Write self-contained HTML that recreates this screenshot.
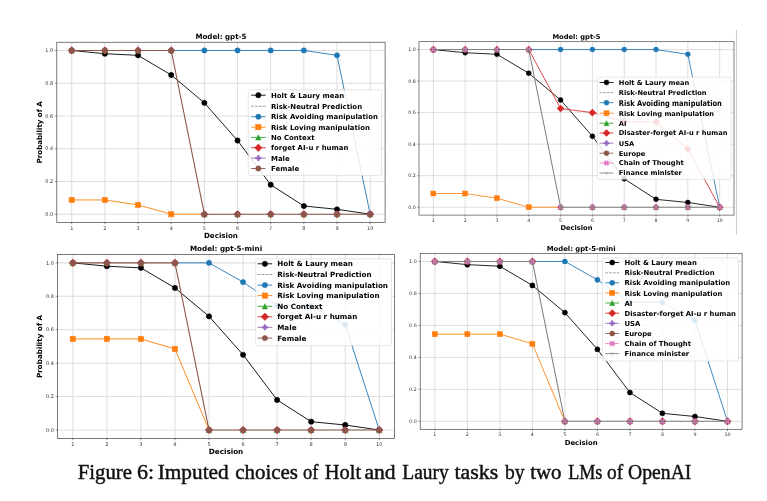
<!DOCTYPE html>
<html lang="en"><head><meta charset="utf-8"><title>Figure 6</title>
<style>html,body{margin:0;padding:0;background:#fff;}body{width:767px;height:501px;overflow:hidden;}</style>
</head><body>
<svg width="767" height="501" viewBox="0 0 767 501" style="display:block;filter:blur(0.35px)">
<rect width="767" height="501" fill="#ffffff"/>
<line x1="736.45" y1="30" x2="736.45" y2="234.5" stroke="#c9c9c9" stroke-width="1"/>
<g id="chart0">
<path d="M71.72 42.25V222.40M104.88 42.25V222.40M138.05 42.25V222.40M171.21 42.25V222.40M204.37 42.25V222.40M237.53 42.25V222.40M270.69 42.25V222.40M303.85 42.25V222.40M337.02 42.25V222.40M370.18 42.25V222.40M56.80 214.21H385.10M56.80 181.46H385.10M56.80 148.70H385.10M56.80 115.95H385.10M56.80 83.19H385.10M56.80 50.44H385.10" stroke="#b0b0b0" stroke-width="1.01" opacity="0.42" fill="none"/>
<path d="M71.72 222.40v1.83M104.88 222.40v1.83M138.05 222.40v1.83M171.21 222.40v1.83M204.37 222.40v1.83M237.53 222.40v1.83M270.69 222.40v1.83M303.85 222.40v1.83M337.02 222.40v1.83M370.18 222.40v1.83M56.80 214.21h-1.83M56.80 181.46h-1.83M56.80 148.70h-1.83M56.80 115.95h-1.83M56.80 83.19h-1.83M56.80 50.44h-1.83" stroke="#333" stroke-width="0.51" fill="none"/>
<g font-family="DejaVu Sans, Liberation Sans, sans-serif" font-size="4.97" fill="#333">
<text x="71.72" y="229.73" text-anchor="middle">1</text>
<text x="104.88" y="229.73" text-anchor="middle">2</text>
<text x="138.05" y="229.73" text-anchor="middle">3</text>
<text x="171.21" y="229.73" text-anchor="middle">4</text>
<text x="204.37" y="229.73" text-anchor="middle">5</text>
<text x="237.53" y="229.73" text-anchor="middle">6</text>
<text x="270.69" y="229.73" text-anchor="middle">7</text>
<text x="303.85" y="229.73" text-anchor="middle">8</text>
<text x="337.02" y="229.73" text-anchor="middle">9</text>
<text x="370.18" y="229.73" text-anchor="middle">10</text>
<text x="53.25" y="215.83" text-anchor="end">0.0</text>
<text x="53.25" y="183.07" text-anchor="end">0.2</text>
<text x="53.25" y="150.32" text-anchor="end">0.4</text>
<text x="53.25" y="117.56" text-anchor="end">0.6</text>
<text x="53.25" y="84.81" text-anchor="end">0.8</text>
<text x="53.25" y="52.05" text-anchor="end">1.0</text>
</g>
<polyline points="71.72,50.44 104.88,53.71 138.05,55.35 171.21,75.00 204.37,102.85 237.53,140.51 270.69,184.73 303.85,206.02 337.02,209.30 370.18,214.21" fill="none" stroke="#000000" stroke-width="0.89" stroke-linejoin="round"/>
<circle cx="71.72" cy="50.44" r="2.64" fill="#000000" stroke="#000000" stroke-width="0.51" stroke-linejoin="miter"/>
<circle cx="104.88" cy="53.71" r="2.64" fill="#000000" stroke="#000000" stroke-width="0.51" stroke-linejoin="miter"/>
<circle cx="138.05" cy="55.35" r="2.64" fill="#000000" stroke="#000000" stroke-width="0.51" stroke-linejoin="miter"/>
<circle cx="171.21" cy="75.00" r="2.64" fill="#000000" stroke="#000000" stroke-width="0.51" stroke-linejoin="miter"/>
<circle cx="204.37" cy="102.85" r="2.64" fill="#000000" stroke="#000000" stroke-width="0.51" stroke-linejoin="miter"/>
<circle cx="237.53" cy="140.51" r="2.64" fill="#000000" stroke="#000000" stroke-width="0.51" stroke-linejoin="miter"/>
<circle cx="270.69" cy="184.73" r="2.64" fill="#000000" stroke="#000000" stroke-width="0.51" stroke-linejoin="miter"/>
<circle cx="303.85" cy="206.02" r="2.64" fill="#000000" stroke="#000000" stroke-width="0.51" stroke-linejoin="miter"/>
<circle cx="337.02" cy="209.30" r="2.64" fill="#000000" stroke="#000000" stroke-width="0.51" stroke-linejoin="miter"/>
<circle cx="370.18" cy="214.21" r="2.64" fill="#000000" stroke="#000000" stroke-width="0.51" stroke-linejoin="miter"/>
<polyline points="171.21,50.44 204.37,50.44 237.53,50.44 270.69,50.44 303.85,50.44 337.02,55.35 370.18,214.21" fill="none" stroke="#1f77b4" stroke-width="0.89" stroke-linejoin="round"/>
<circle cx="204.37" cy="50.44" r="2.64" fill="#1f77b4" stroke="#1f77b4" stroke-width="0.51" stroke-linejoin="miter"/>
<circle cx="237.53" cy="50.44" r="2.64" fill="#1f77b4" stroke="#1f77b4" stroke-width="0.51" stroke-linejoin="miter"/>
<circle cx="270.69" cy="50.44" r="2.64" fill="#1f77b4" stroke="#1f77b4" stroke-width="0.51" stroke-linejoin="miter"/>
<circle cx="303.85" cy="50.44" r="2.64" fill="#1f77b4" stroke="#1f77b4" stroke-width="0.51" stroke-linejoin="miter"/>
<circle cx="337.02" cy="55.35" r="2.64" fill="#1f77b4" stroke="#1f77b4" stroke-width="0.51" stroke-linejoin="miter"/>
<circle cx="370.18" cy="214.21" r="2.64" fill="#1f77b4" stroke="#1f77b4" stroke-width="0.51" stroke-linejoin="miter"/>
<polyline points="71.72,199.96 104.88,199.96 138.05,204.88 171.21,214.21 204.37,214.21" fill="none" stroke="#ff7f0e" stroke-width="0.89" stroke-linejoin="round"/>
<rect x="69.09" y="197.33" width="5.27" height="5.27" fill="#ff7f0e" stroke="#ff7f0e" stroke-width="0.51" stroke-linejoin="miter"/>
<rect x="102.25" y="197.33" width="5.27" height="5.27" fill="#ff7f0e" stroke="#ff7f0e" stroke-width="0.51" stroke-linejoin="miter"/>
<rect x="135.41" y="202.24" width="5.27" height="5.27" fill="#ff7f0e" stroke="#ff7f0e" stroke-width="0.51" stroke-linejoin="miter"/>
<rect x="168.57" y="211.57" width="5.27" height="5.27" fill="#ff7f0e" stroke="#ff7f0e" stroke-width="0.51" stroke-linejoin="miter"/>
<path d="M71.72 47.80L69.09 53.08L74.36 53.08Z" fill="#2ca02c" stroke="#2ca02c" stroke-width="0.51" stroke-linejoin="miter"/>
<path d="M104.88 47.80L102.25 53.08L107.52 53.08Z" fill="#2ca02c" stroke="#2ca02c" stroke-width="0.51" stroke-linejoin="miter"/>
<path d="M138.05 47.80L135.41 53.08L140.68 53.08Z" fill="#2ca02c" stroke="#2ca02c" stroke-width="0.51" stroke-linejoin="miter"/>
<path d="M171.21 47.80L168.57 53.08L173.84 53.08Z" fill="#2ca02c" stroke="#2ca02c" stroke-width="0.51" stroke-linejoin="miter"/>
<path d="M204.37 211.57L201.73 216.85L207.01 216.85Z" fill="#2ca02c" stroke="#2ca02c" stroke-width="0.51" stroke-linejoin="miter"/>
<path d="M237.53 211.57L234.89 216.85L240.17 216.85Z" fill="#2ca02c" stroke="#2ca02c" stroke-width="0.51" stroke-linejoin="miter"/>
<path d="M270.69 211.57L268.06 216.85L273.33 216.85Z" fill="#2ca02c" stroke="#2ca02c" stroke-width="0.51" stroke-linejoin="miter"/>
<path d="M303.85 211.57L301.22 216.85L306.49 216.85Z" fill="#2ca02c" stroke="#2ca02c" stroke-width="0.51" stroke-linejoin="miter"/>
<path d="M337.02 211.57L334.38 216.85L339.65 216.85Z" fill="#2ca02c" stroke="#2ca02c" stroke-width="0.51" stroke-linejoin="miter"/>
<path d="M370.18 211.57L367.54 216.85L372.81 216.85Z" fill="#2ca02c" stroke="#2ca02c" stroke-width="0.51" stroke-linejoin="miter"/>
<path d="M71.72 46.71L75.45 50.44L71.72 54.17L67.99 50.44Z" fill="#d62728" stroke="#d62728" stroke-width="0.51" stroke-linejoin="miter"/>
<path d="M104.88 46.71L108.61 50.44L104.88 54.17L101.16 50.44Z" fill="#d62728" stroke="#d62728" stroke-width="0.51" stroke-linejoin="miter"/>
<path d="M138.05 46.71L141.77 50.44L138.05 54.17L134.32 50.44Z" fill="#d62728" stroke="#d62728" stroke-width="0.51" stroke-linejoin="miter"/>
<path d="M171.21 46.71L174.94 50.44L171.21 54.17L167.48 50.44Z" fill="#d62728" stroke="#d62728" stroke-width="0.51" stroke-linejoin="miter"/>
<path d="M204.37 210.48L208.10 214.21L204.37 217.94L200.64 214.21Z" fill="#d62728" stroke="#d62728" stroke-width="0.51" stroke-linejoin="miter"/>
<path d="M237.53 210.48L241.26 214.21L237.53 217.94L233.80 214.21Z" fill="#d62728" stroke="#d62728" stroke-width="0.51" stroke-linejoin="miter"/>
<path d="M270.69 210.48L274.42 214.21L270.69 217.94L266.96 214.21Z" fill="#d62728" stroke="#d62728" stroke-width="0.51" stroke-linejoin="miter"/>
<path d="M303.85 210.48L307.58 214.21L303.85 217.94L300.13 214.21Z" fill="#d62728" stroke="#d62728" stroke-width="0.51" stroke-linejoin="miter"/>
<path d="M337.02 210.48L340.74 214.21L337.02 217.94L333.29 214.21Z" fill="#d62728" stroke="#d62728" stroke-width="0.51" stroke-linejoin="miter"/>
<path d="M370.18 210.48L373.91 214.21L370.18 217.94L366.45 214.21Z" fill="#d62728" stroke="#d62728" stroke-width="0.51" stroke-linejoin="miter"/>
<path d="M70.84 47.80h1.76v1.76h1.76v1.76h-1.76v1.76h-1.76v-1.76h-1.76v-1.76h1.76Z" fill="#9467bd" stroke="#9467bd" stroke-width="0.51" stroke-linejoin="miter"/>
<path d="M104.01 47.80h1.76v1.76h1.76v1.76h-1.76v1.76h-1.76v-1.76h-1.76v-1.76h1.76Z" fill="#9467bd" stroke="#9467bd" stroke-width="0.51" stroke-linejoin="miter"/>
<path d="M137.17 47.80h1.76v1.76h1.76v1.76h-1.76v1.76h-1.76v-1.76h-1.76v-1.76h1.76Z" fill="#9467bd" stroke="#9467bd" stroke-width="0.51" stroke-linejoin="miter"/>
<path d="M170.33 47.80h1.76v1.76h1.76v1.76h-1.76v1.76h-1.76v-1.76h-1.76v-1.76h1.76Z" fill="#9467bd" stroke="#9467bd" stroke-width="0.51" stroke-linejoin="miter"/>
<path d="M203.49 211.57h1.76v1.76h1.76v1.76h-1.76v1.76h-1.76v-1.76h-1.76v-1.76h1.76Z" fill="#9467bd" stroke="#9467bd" stroke-width="0.51" stroke-linejoin="miter"/>
<path d="M236.65 211.57h1.76v1.76h1.76v1.76h-1.76v1.76h-1.76v-1.76h-1.76v-1.76h1.76Z" fill="#9467bd" stroke="#9467bd" stroke-width="0.51" stroke-linejoin="miter"/>
<path d="M269.81 211.57h1.76v1.76h1.76v1.76h-1.76v1.76h-1.76v-1.76h-1.76v-1.76h1.76Z" fill="#9467bd" stroke="#9467bd" stroke-width="0.51" stroke-linejoin="miter"/>
<path d="M302.97 211.57h1.76v1.76h1.76v1.76h-1.76v1.76h-1.76v-1.76h-1.76v-1.76h1.76Z" fill="#9467bd" stroke="#9467bd" stroke-width="0.51" stroke-linejoin="miter"/>
<path d="M336.14 211.57h1.76v1.76h1.76v1.76h-1.76v1.76h-1.76v-1.76h-1.76v-1.76h1.76Z" fill="#9467bd" stroke="#9467bd" stroke-width="0.51" stroke-linejoin="miter"/>
<path d="M369.30 211.57h1.76v1.76h1.76v1.76h-1.76v1.76h-1.76v-1.76h-1.76v-1.76h1.76Z" fill="#9467bd" stroke="#9467bd" stroke-width="0.51" stroke-linejoin="miter"/>
<polyline points="71.72,50.44 104.88,50.44 138.05,50.44 171.21,50.44 204.37,214.21 237.53,214.21 270.69,214.21 303.85,214.21 337.02,214.21 370.18,214.21" fill="none" stroke="#8c564b" stroke-width="1.07" stroke-linejoin="round"/>
<circle cx="71.72" cy="50.44" r="2.64" fill="#8c564b" stroke="#8c564b" stroke-width="0.51" stroke-linejoin="miter"/>
<circle cx="104.88" cy="50.44" r="2.64" fill="#8c564b" stroke="#8c564b" stroke-width="0.51" stroke-linejoin="miter"/>
<circle cx="138.05" cy="50.44" r="2.64" fill="#8c564b" stroke="#8c564b" stroke-width="0.51" stroke-linejoin="miter"/>
<circle cx="171.21" cy="50.44" r="2.64" fill="#8c564b" stroke="#8c564b" stroke-width="0.51" stroke-linejoin="miter"/>
<circle cx="204.37" cy="214.21" r="2.64" fill="#8c564b" stroke="#8c564b" stroke-width="0.51" stroke-linejoin="miter"/>
<circle cx="237.53" cy="214.21" r="2.64" fill="#8c564b" stroke="#8c564b" stroke-width="0.51" stroke-linejoin="miter"/>
<circle cx="270.69" cy="214.21" r="2.64" fill="#8c564b" stroke="#8c564b" stroke-width="0.51" stroke-linejoin="miter"/>
<circle cx="303.85" cy="214.21" r="2.64" fill="#8c564b" stroke="#8c564b" stroke-width="0.51" stroke-linejoin="miter"/>
<circle cx="337.02" cy="214.21" r="2.64" fill="#8c564b" stroke="#8c564b" stroke-width="0.51" stroke-linejoin="miter"/>
<circle cx="370.18" cy="214.21" r="2.64" fill="#8c564b" stroke="#8c564b" stroke-width="0.51" stroke-linejoin="miter"/>
<rect x="56.80" y="42.25" width="328.30" height="180.15" fill="none" stroke="#000" stroke-width="0.69" opacity="0.75"/>
<g font-family="DejaVu Sans, Liberation Sans, sans-serif" font-weight="bold" font-size="7.10" fill="#000">
<text x="220.95" y="39.21" text-anchor="middle">Model: gpt-5</text>
<text x="220.95" y="238.22" text-anchor="middle">Decision</text>
<text transform="translate(41.69 132.32) rotate(-90)" text-anchor="middle">Probability of A</text>
</g>
<rect x="248.30" y="89.80" width="133.20" height="85.60" rx="1.42" fill="#fff" fill-opacity="0.84" stroke="#ccc" stroke-opacity="0.8" stroke-width="0.61"/>
<g font-family="DejaVu Sans, Liberation Sans, sans-serif" font-weight="bold" font-size="6.94" fill="#000">
<line x1="251.10" y1="95.20" x2="265.60" y2="95.20" stroke="#000000" stroke-width="0.89"/>
<circle cx="258.35" cy="95.20" r="2.64" fill="#000000" stroke="#000000" stroke-width="0.51" stroke-linejoin="miter"/>
<text x="271.00" y="97.73">Holt &amp; Laury mean</text>
<line x1="251.10" y1="106.20" x2="265.60" y2="106.20" stroke="#7f7f7f" stroke-width="0.89" stroke-dasharray="2.74 1.22" opacity="0.9"/>
<text x="271.00" y="108.73">Risk-Neutral Prediction</text>
<line x1="251.10" y1="116.70" x2="265.60" y2="116.70" stroke="#1f77b4" stroke-width="0.89"/>
<circle cx="258.35" cy="116.70" r="2.64" fill="#1f77b4" stroke="#1f77b4" stroke-width="0.51" stroke-linejoin="miter"/>
<text x="271.00" y="119.23">Risk Avoiding manipulation</text>
<line x1="251.10" y1="127.20" x2="265.60" y2="127.20" stroke="#ff7f0e" stroke-width="0.89"/>
<rect x="255.71" y="124.56" width="5.27" height="5.27" fill="#ff7f0e" stroke="#ff7f0e" stroke-width="0.51" stroke-linejoin="miter"/>
<text x="271.00" y="129.73">Risk Loving manipulation</text>
<line x1="251.10" y1="137.40" x2="265.60" y2="137.40" stroke="#2ca02c" stroke-width="0.89"/>
<path d="M258.35 134.76L255.71 140.04L260.99 140.04Z" fill="#2ca02c" stroke="#2ca02c" stroke-width="0.51" stroke-linejoin="miter"/>
<text x="271.00" y="139.93">No Context</text>
<line x1="251.10" y1="147.70" x2="265.60" y2="147.70" stroke="#d62728" stroke-width="0.89"/>
<path d="M258.35 143.97L262.08 147.70L258.35 151.43L254.62 147.70Z" fill="#d62728" stroke="#d62728" stroke-width="0.51" stroke-linejoin="miter"/>
<text x="271.00" y="150.23">forget AI-u r human</text>
<line x1="251.10" y1="158.10" x2="265.60" y2="158.10" stroke="#9467bd" stroke-width="0.89"/>
<path d="M257.47 155.46h1.76v1.76h1.76v1.76h-1.76v1.76h-1.76v-1.76h-1.76v-1.76h1.76Z" fill="#9467bd" stroke="#9467bd" stroke-width="0.51" stroke-linejoin="miter"/>
<text x="271.00" y="160.63">Male</text>
<line x1="251.10" y1="168.50" x2="265.60" y2="168.50" stroke="#8c564b" stroke-width="0.89"/>
<circle cx="258.35" cy="168.50" r="2.64" fill="#8c564b" stroke="#8c564b" stroke-width="0.51" stroke-linejoin="miter"/>
<text x="271.00" y="171.03">Female</text>
</g>
</g>
<g id="chart1">
<path d="M433.32 41.70V215.10M465.14 41.70V215.10M496.95 41.70V215.10M528.77 41.70V215.10M560.59 41.70V215.10M592.41 41.70V215.10M624.23 41.70V215.10M656.05 41.70V215.10M687.86 41.70V215.10M719.68 41.70V215.10M419.00 207.22H734.00M419.00 175.69H734.00M419.00 144.16H734.00M419.00 112.64H734.00M419.00 81.11H734.00M419.00 49.58H734.00" stroke="#b0b0b0" stroke-width="0.96" opacity="0.42" fill="none"/>
<path d="M433.32 215.10v1.72M465.14 215.10v1.72M496.95 215.10v1.72M528.77 215.10v1.72M560.59 215.10v1.72M592.41 215.10v1.72M624.23 215.10v1.72M656.05 215.10v1.72M687.86 215.10v1.72M719.68 215.10v1.72M419.00 207.22h-1.72M419.00 175.69h-1.72M419.00 144.16h-1.72M419.00 112.64h-1.72M419.00 81.11h-1.72M419.00 49.58h-1.72" stroke="#333" stroke-width="0.48" fill="none"/>
<g font-family="DejaVu Sans, Liberation Sans, sans-serif" font-size="4.69" fill="#333">
<text x="433.32" y="222.01" text-anchor="middle">1</text>
<text x="465.14" y="222.01" text-anchor="middle">2</text>
<text x="496.95" y="222.01" text-anchor="middle">3</text>
<text x="528.77" y="222.01" text-anchor="middle">4</text>
<text x="560.59" y="222.01" text-anchor="middle">5</text>
<text x="592.41" y="222.01" text-anchor="middle">6</text>
<text x="624.23" y="222.01" text-anchor="middle">7</text>
<text x="656.05" y="222.01" text-anchor="middle">8</text>
<text x="687.86" y="222.01" text-anchor="middle">9</text>
<text x="719.68" y="222.01" text-anchor="middle">10</text>
<text x="415.65" y="208.73" text-anchor="end">0.0</text>
<text x="415.65" y="177.20" text-anchor="end">0.2</text>
<text x="415.65" y="145.68" text-anchor="end">0.4</text>
<text x="415.65" y="114.15" text-anchor="end">0.6</text>
<text x="415.65" y="82.62" text-anchor="end">0.8</text>
<text x="415.65" y="51.09" text-anchor="end">1.0</text>
</g>
<polyline points="433.32,49.58 465.14,52.73 496.95,54.31 528.77,73.23 560.59,100.03 592.41,136.28 624.23,178.84 656.05,199.34 687.86,202.49 719.68,207.22" fill="none" stroke="#000000" stroke-width="0.84" stroke-linejoin="round"/>
<circle cx="433.32" cy="49.58" r="2.49" fill="#000000" stroke="#000000" stroke-width="0.48" stroke-linejoin="miter"/>
<circle cx="465.14" cy="52.73" r="2.49" fill="#000000" stroke="#000000" stroke-width="0.48" stroke-linejoin="miter"/>
<circle cx="496.95" cy="54.31" r="2.49" fill="#000000" stroke="#000000" stroke-width="0.48" stroke-linejoin="miter"/>
<circle cx="528.77" cy="73.23" r="2.49" fill="#000000" stroke="#000000" stroke-width="0.48" stroke-linejoin="miter"/>
<circle cx="560.59" cy="100.03" r="2.49" fill="#000000" stroke="#000000" stroke-width="0.48" stroke-linejoin="miter"/>
<circle cx="592.41" cy="136.28" r="2.49" fill="#000000" stroke="#000000" stroke-width="0.48" stroke-linejoin="miter"/>
<circle cx="624.23" cy="178.84" r="2.49" fill="#000000" stroke="#000000" stroke-width="0.48" stroke-linejoin="miter"/>
<circle cx="656.05" cy="199.34" r="2.49" fill="#000000" stroke="#000000" stroke-width="0.48" stroke-linejoin="miter"/>
<circle cx="687.86" cy="202.49" r="2.49" fill="#000000" stroke="#000000" stroke-width="0.48" stroke-linejoin="miter"/>
<circle cx="719.68" cy="207.22" r="2.49" fill="#000000" stroke="#000000" stroke-width="0.48" stroke-linejoin="miter"/>
<polyline points="528.77,49.58 560.59,49.58 592.41,49.58 624.23,49.58 656.05,49.58 687.86,54.31 719.68,207.22" fill="none" stroke="#1f77b4" stroke-width="0.84" stroke-linejoin="round"/>
<circle cx="560.59" cy="49.58" r="2.49" fill="#1f77b4" stroke="#1f77b4" stroke-width="0.48" stroke-linejoin="miter"/>
<circle cx="592.41" cy="49.58" r="2.49" fill="#1f77b4" stroke="#1f77b4" stroke-width="0.48" stroke-linejoin="miter"/>
<circle cx="624.23" cy="49.58" r="2.49" fill="#1f77b4" stroke="#1f77b4" stroke-width="0.48" stroke-linejoin="miter"/>
<circle cx="656.05" cy="49.58" r="2.49" fill="#1f77b4" stroke="#1f77b4" stroke-width="0.48" stroke-linejoin="miter"/>
<circle cx="687.86" cy="54.31" r="2.49" fill="#1f77b4" stroke="#1f77b4" stroke-width="0.48" stroke-linejoin="miter"/>
<circle cx="719.68" cy="207.22" r="2.49" fill="#1f77b4" stroke="#1f77b4" stroke-width="0.48" stroke-linejoin="miter"/>
<polyline points="433.32,193.50 465.14,193.50 496.95,198.23 528.77,207.22 560.59,207.22" fill="none" stroke="#ff7f0e" stroke-width="0.84" stroke-linejoin="round"/>
<rect x="430.83" y="191.02" width="4.98" height="4.98" fill="#ff7f0e" stroke="#ff7f0e" stroke-width="0.48" stroke-linejoin="miter"/>
<rect x="462.65" y="191.02" width="4.98" height="4.98" fill="#ff7f0e" stroke="#ff7f0e" stroke-width="0.48" stroke-linejoin="miter"/>
<rect x="494.47" y="195.74" width="4.98" height="4.98" fill="#ff7f0e" stroke="#ff7f0e" stroke-width="0.48" stroke-linejoin="miter"/>
<rect x="526.28" y="204.73" width="4.98" height="4.98" fill="#ff7f0e" stroke="#ff7f0e" stroke-width="0.48" stroke-linejoin="miter"/>
<path d="M433.32 47.09L430.83 52.07L435.81 52.07Z" fill="#2ca02c" stroke="#2ca02c" stroke-width="0.48" stroke-linejoin="miter"/>
<path d="M465.14 47.09L462.65 52.07L467.62 52.07Z" fill="#2ca02c" stroke="#2ca02c" stroke-width="0.48" stroke-linejoin="miter"/>
<path d="M496.95 47.09L494.47 52.07L499.44 52.07Z" fill="#2ca02c" stroke="#2ca02c" stroke-width="0.48" stroke-linejoin="miter"/>
<path d="M528.77 47.09L526.28 52.07L531.26 52.07Z" fill="#2ca02c" stroke="#2ca02c" stroke-width="0.48" stroke-linejoin="miter"/>
<path d="M560.59 204.73L558.10 209.71L563.08 209.71Z" fill="#2ca02c" stroke="#2ca02c" stroke-width="0.48" stroke-linejoin="miter"/>
<path d="M592.41 204.73L589.92 209.71L594.90 209.71Z" fill="#2ca02c" stroke="#2ca02c" stroke-width="0.48" stroke-linejoin="miter"/>
<path d="M624.23 204.73L621.74 209.71L626.72 209.71Z" fill="#2ca02c" stroke="#2ca02c" stroke-width="0.48" stroke-linejoin="miter"/>
<path d="M656.05 204.73L653.56 209.71L658.53 209.71Z" fill="#2ca02c" stroke="#2ca02c" stroke-width="0.48" stroke-linejoin="miter"/>
<path d="M687.86 204.73L685.38 209.71L690.35 209.71Z" fill="#2ca02c" stroke="#2ca02c" stroke-width="0.48" stroke-linejoin="miter"/>
<path d="M719.68 204.73L717.19 209.71L722.17 209.71Z" fill="#2ca02c" stroke="#2ca02c" stroke-width="0.48" stroke-linejoin="miter"/>
<polyline points="528.77,49.58 560.59,108.54 592.41,112.64 624.23,121.62 656.05,122.09 687.86,148.89 719.68,207.22" fill="none" stroke="#d62728" stroke-width="0.84" stroke-linejoin="round"/>
<path d="M433.32 46.06L436.84 49.58L433.32 53.10L429.80 49.58Z" fill="#d62728" stroke="#d62728" stroke-width="0.48" stroke-linejoin="miter"/>
<path d="M465.14 46.06L468.66 49.58L465.14 53.10L461.62 49.58Z" fill="#d62728" stroke="#d62728" stroke-width="0.48" stroke-linejoin="miter"/>
<path d="M496.95 46.06L500.47 49.58L496.95 53.10L493.44 49.58Z" fill="#d62728" stroke="#d62728" stroke-width="0.48" stroke-linejoin="miter"/>
<path d="M528.77 46.06L532.29 49.58L528.77 53.10L525.25 49.58Z" fill="#d62728" stroke="#d62728" stroke-width="0.48" stroke-linejoin="miter"/>
<path d="M560.59 105.02L564.11 108.54L560.59 112.06L557.07 108.54Z" fill="#d62728" stroke="#d62728" stroke-width="0.48" stroke-linejoin="miter"/>
<path d="M592.41 109.12L595.93 112.64L592.41 116.16L588.89 112.64Z" fill="#d62728" stroke="#d62728" stroke-width="0.48" stroke-linejoin="miter"/>
<path d="M624.23 118.10L627.75 121.62L624.23 125.14L620.71 121.62Z" fill="#d62728" stroke="#d62728" stroke-width="0.48" stroke-linejoin="miter"/>
<path d="M656.05 118.58L659.56 122.09L656.05 125.61L652.53 122.09Z" fill="#d62728" stroke="#d62728" stroke-width="0.48" stroke-linejoin="miter"/>
<path d="M687.86 145.37L691.38 148.89L687.86 152.41L684.34 148.89Z" fill="#d62728" stroke="#d62728" stroke-width="0.48" stroke-linejoin="miter"/>
<path d="M719.68 203.70L723.20 207.22L719.68 210.74L716.16 207.22Z" fill="#d62728" stroke="#d62728" stroke-width="0.48" stroke-linejoin="miter"/>
<path d="M432.49 47.09h1.66v1.66h1.66v1.66h-1.66v1.66h-1.66v-1.66h-1.66v-1.66h1.66Z" fill="#9467bd" stroke="#9467bd" stroke-width="0.48" stroke-linejoin="miter"/>
<path d="M464.31 47.09h1.66v1.66h1.66v1.66h-1.66v1.66h-1.66v-1.66h-1.66v-1.66h1.66Z" fill="#9467bd" stroke="#9467bd" stroke-width="0.48" stroke-linejoin="miter"/>
<path d="M496.13 47.09h1.66v1.66h1.66v1.66h-1.66v1.66h-1.66v-1.66h-1.66v-1.66h1.66Z" fill="#9467bd" stroke="#9467bd" stroke-width="0.48" stroke-linejoin="miter"/>
<path d="M527.94 47.09h1.66v1.66h1.66v1.66h-1.66v1.66h-1.66v-1.66h-1.66v-1.66h1.66Z" fill="#9467bd" stroke="#9467bd" stroke-width="0.48" stroke-linejoin="miter"/>
<path d="M559.76 204.73h1.66v1.66h1.66v1.66h-1.66v1.66h-1.66v-1.66h-1.66v-1.66h1.66Z" fill="#9467bd" stroke="#9467bd" stroke-width="0.48" stroke-linejoin="miter"/>
<path d="M591.58 204.73h1.66v1.66h1.66v1.66h-1.66v1.66h-1.66v-1.66h-1.66v-1.66h1.66Z" fill="#9467bd" stroke="#9467bd" stroke-width="0.48" stroke-linejoin="miter"/>
<path d="M623.40 204.73h1.66v1.66h1.66v1.66h-1.66v1.66h-1.66v-1.66h-1.66v-1.66h1.66Z" fill="#9467bd" stroke="#9467bd" stroke-width="0.48" stroke-linejoin="miter"/>
<path d="M655.22 204.73h1.66v1.66h1.66v1.66h-1.66v1.66h-1.66v-1.66h-1.66v-1.66h1.66Z" fill="#9467bd" stroke="#9467bd" stroke-width="0.48" stroke-linejoin="miter"/>
<path d="M687.03 204.73h1.66v1.66h1.66v1.66h-1.66v1.66h-1.66v-1.66h-1.66v-1.66h1.66Z" fill="#9467bd" stroke="#9467bd" stroke-width="0.48" stroke-linejoin="miter"/>
<path d="M718.85 204.73h1.66v1.66h1.66v1.66h-1.66v1.66h-1.66v-1.66h-1.66v-1.66h1.66Z" fill="#9467bd" stroke="#9467bd" stroke-width="0.48" stroke-linejoin="miter"/>
<circle cx="433.32" cy="49.58" r="2.49" fill="#8c564b" stroke="#8c564b" stroke-width="0.48" stroke-linejoin="miter"/>
<circle cx="465.14" cy="49.58" r="2.49" fill="#8c564b" stroke="#8c564b" stroke-width="0.48" stroke-linejoin="miter"/>
<circle cx="496.95" cy="49.58" r="2.49" fill="#8c564b" stroke="#8c564b" stroke-width="0.48" stroke-linejoin="miter"/>
<circle cx="528.77" cy="49.58" r="2.49" fill="#8c564b" stroke="#8c564b" stroke-width="0.48" stroke-linejoin="miter"/>
<circle cx="560.59" cy="207.22" r="2.49" fill="#8c564b" stroke="#8c564b" stroke-width="0.48" stroke-linejoin="miter"/>
<circle cx="592.41" cy="207.22" r="2.49" fill="#8c564b" stroke="#8c564b" stroke-width="0.48" stroke-linejoin="miter"/>
<circle cx="624.23" cy="207.22" r="2.49" fill="#8c564b" stroke="#8c564b" stroke-width="0.48" stroke-linejoin="miter"/>
<circle cx="656.05" cy="207.22" r="2.49" fill="#8c564b" stroke="#8c564b" stroke-width="0.48" stroke-linejoin="miter"/>
<circle cx="687.86" cy="207.22" r="2.49" fill="#8c564b" stroke="#8c564b" stroke-width="0.48" stroke-linejoin="miter"/>
<circle cx="719.68" cy="207.22" r="2.49" fill="#8c564b" stroke="#8c564b" stroke-width="0.48" stroke-linejoin="miter"/>
<path d="M432.07 47.09L433.32 48.34L434.56 47.09L435.81 48.34L434.56 49.58L435.81 50.83L434.56 52.07L433.32 50.83L432.07 52.07L430.83 50.83L432.07 49.58L430.83 48.34Z" fill="#e377c2" stroke="#e377c2" stroke-width="0.48" stroke-linejoin="miter"/>
<path d="M463.89 47.09L465.14 48.34L466.38 47.09L467.62 48.34L466.38 49.58L467.62 50.83L466.38 52.07L465.14 50.83L463.89 52.07L462.65 50.83L463.89 49.58L462.65 48.34Z" fill="#e377c2" stroke="#e377c2" stroke-width="0.48" stroke-linejoin="miter"/>
<path d="M495.71 47.09L496.95 48.34L498.20 47.09L499.44 48.34L498.20 49.58L499.44 50.83L498.20 52.07L496.95 50.83L495.71 52.07L494.47 50.83L495.71 49.58L494.47 48.34Z" fill="#e377c2" stroke="#e377c2" stroke-width="0.48" stroke-linejoin="miter"/>
<path d="M527.53 47.09L528.77 48.34L530.02 47.09L531.26 48.34L530.02 49.58L531.26 50.83L530.02 52.07L528.77 50.83L527.53 52.07L526.28 50.83L527.53 49.58L526.28 48.34Z" fill="#e377c2" stroke="#e377c2" stroke-width="0.48" stroke-linejoin="miter"/>
<path d="M559.35 204.73L560.59 205.97L561.84 204.73L563.08 205.97L561.84 207.22L563.08 208.46L561.84 209.71L560.59 208.46L559.35 209.71L558.10 208.46L559.35 207.22L558.10 205.97Z" fill="#e377c2" stroke="#e377c2" stroke-width="0.48" stroke-linejoin="miter"/>
<path d="M591.16 204.73L592.41 205.97L593.65 204.73L594.90 205.97L593.65 207.22L594.90 208.46L593.65 209.71L592.41 208.46L591.16 209.71L589.92 208.46L591.16 207.22L589.92 205.97Z" fill="#e377c2" stroke="#e377c2" stroke-width="0.48" stroke-linejoin="miter"/>
<path d="M622.98 204.73L624.23 205.97L625.47 204.73L626.72 205.97L625.47 207.22L626.72 208.46L625.47 209.71L624.23 208.46L622.98 209.71L621.74 208.46L622.98 207.22L621.74 205.97Z" fill="#e377c2" stroke="#e377c2" stroke-width="0.48" stroke-linejoin="miter"/>
<path d="M654.80 204.73L656.05 205.97L657.29 204.73L658.53 205.97L657.29 207.22L658.53 208.46L657.29 209.71L656.05 208.46L654.80 209.71L653.56 208.46L654.80 207.22L653.56 205.97Z" fill="#e377c2" stroke="#e377c2" stroke-width="0.48" stroke-linejoin="miter"/>
<path d="M686.62 204.73L687.86 205.97L689.11 204.73L690.35 205.97L689.11 207.22L690.35 208.46L689.11 209.71L687.86 208.46L686.62 209.71L685.38 208.46L686.62 207.22L685.38 205.97Z" fill="#e377c2" stroke="#e377c2" stroke-width="0.48" stroke-linejoin="miter"/>
<path d="M718.44 204.73L719.68 205.97L720.93 204.73L722.17 205.97L720.93 207.22L722.17 208.46L720.93 209.71L719.68 208.46L718.44 209.71L717.19 208.46L718.44 207.22L717.19 205.97Z" fill="#e377c2" stroke="#e377c2" stroke-width="0.48" stroke-linejoin="miter"/>
<polyline points="433.32,49.58 465.14,49.58 496.95,49.58 528.77,49.58 560.59,207.22 592.41,207.22 624.23,207.22 656.05,207.22 687.86,207.22 719.68,207.22" fill="none" stroke="#7f7f7f" stroke-width="1.01" stroke-linejoin="round"/>
<path d="M433.32 49.58V52.07M433.32 49.58L435.31 48.34M433.32 49.58L431.33 48.34" stroke="#7f7f7f" stroke-width="0.38" fill="none"/>
<path d="M465.14 49.58V52.07M465.14 49.58L467.13 48.34M465.14 49.58L463.15 48.34" stroke="#7f7f7f" stroke-width="0.38" fill="none"/>
<path d="M496.95 49.58V52.07M496.95 49.58L498.95 48.34M496.95 49.58L494.96 48.34" stroke="#7f7f7f" stroke-width="0.38" fill="none"/>
<path d="M528.77 49.58V52.07M528.77 49.58L530.76 48.34M528.77 49.58L526.78 48.34" stroke="#7f7f7f" stroke-width="0.38" fill="none"/>
<path d="M560.59 207.22V209.71M560.59 207.22L562.58 205.97M560.59 207.22L558.60 205.97" stroke="#7f7f7f" stroke-width="0.38" fill="none"/>
<path d="M592.41 207.22V209.71M592.41 207.22L594.40 205.97M592.41 207.22L590.42 205.97" stroke="#7f7f7f" stroke-width="0.38" fill="none"/>
<path d="M624.23 207.22V209.71M624.23 207.22L626.22 205.97M624.23 207.22L622.24 205.97" stroke="#7f7f7f" stroke-width="0.38" fill="none"/>
<path d="M656.05 207.22V209.71M656.05 207.22L658.04 205.97M656.05 207.22L654.05 205.97" stroke="#7f7f7f" stroke-width="0.38" fill="none"/>
<path d="M687.86 207.22V209.71M687.86 207.22L689.85 205.97M687.86 207.22L685.87 205.97" stroke="#7f7f7f" stroke-width="0.38" fill="none"/>
<path d="M719.68 207.22V209.71M719.68 207.22L721.67 205.97M719.68 207.22L717.69 205.97" stroke="#7f7f7f" stroke-width="0.38" fill="none"/>
<rect x="419.00" y="41.70" width="315.00" height="173.40" fill="none" stroke="#000" stroke-width="0.65" opacity="0.75"/>
<g font-family="DejaVu Sans, Liberation Sans, sans-serif" font-weight="bold" font-size="6.70" fill="#000">
<text x="576.50" y="38.83" text-anchor="middle">Model: gpt-5</text>
<text x="576.50" y="230.03" text-anchor="middle">Decision</text>
</g>
<rect x="597.30" y="77.20" width="133.70" height="102.10" rx="1.34" fill="#fff" fill-opacity="0.84" stroke="#ccc" stroke-opacity="0.8" stroke-width="0.57"/>
<g font-family="DejaVu Sans, Liberation Sans, sans-serif" font-weight="bold" font-size="6.70" fill="#000">
<line x1="599.50" y1="82.50" x2="613.50" y2="82.50" stroke="#000000" stroke-width="0.84"/>
<circle cx="606.50" cy="82.50" r="2.49" fill="#000000" stroke="#000000" stroke-width="0.48" stroke-linejoin="miter"/>
<text x="618.80" y="84.95">Holt &amp; Laury mean</text>
<line x1="599.50" y1="92.70" x2="613.50" y2="92.70" stroke="#7f7f7f" stroke-width="0.84" stroke-dasharray="2.58 1.15" opacity="0.9"/>
<text x="618.80" y="95.15">Risk-Neutral Prediction</text>
<line x1="599.50" y1="102.70" x2="613.50" y2="102.70" stroke="#1f77b4" stroke-width="0.84"/>
<circle cx="606.50" cy="102.70" r="2.49" fill="#1f77b4" stroke="#1f77b4" stroke-width="0.48" stroke-linejoin="miter"/>
<text transform="translate(618.80 105.70) scale(0.93 1)" font-family="DejaVu Sans Condensed, DejaVu Sans, sans-serif" font-size="8.0">Risk Avoiding manipulation</text>
<line x1="599.50" y1="113.20" x2="613.50" y2="113.20" stroke="#ff7f0e" stroke-width="0.84"/>
<rect x="604.01" y="110.71" width="4.98" height="4.98" fill="#ff7f0e" stroke="#ff7f0e" stroke-width="0.48" stroke-linejoin="miter"/>
<text x="618.80" y="115.65">Risk Loving manipulation</text>
<line x1="599.50" y1="123.20" x2="613.50" y2="123.20" stroke="#2ca02c" stroke-width="0.84"/>
<path d="M606.50 120.71L604.01 125.69L608.99 125.69Z" fill="#2ca02c" stroke="#2ca02c" stroke-width="0.48" stroke-linejoin="miter"/>
<text x="618.80" y="125.65">AI</text>
<line x1="599.50" y1="133.00" x2="613.50" y2="133.00" stroke="#d62728" stroke-width="0.84"/>
<path d="M606.50 129.48L610.02 133.00L606.50 136.52L602.98 133.00Z" fill="#d62728" stroke="#d62728" stroke-width="0.48" stroke-linejoin="miter"/>
<text x="618.80" y="135.45">Disaster-forget AI-u r human</text>
<line x1="599.50" y1="143.20" x2="613.50" y2="143.20" stroke="#9467bd" stroke-width="0.84"/>
<path d="M605.67 140.71h1.66v1.66h1.66v1.66h-1.66v1.66h-1.66v-1.66h-1.66v-1.66h1.66Z" fill="#9467bd" stroke="#9467bd" stroke-width="0.48" stroke-linejoin="miter"/>
<text x="618.80" y="145.65">USA</text>
<line x1="599.50" y1="153.20" x2="613.50" y2="153.20" stroke="#8c564b" stroke-width="0.84"/>
<circle cx="606.50" cy="153.20" r="2.49" fill="#8c564b" stroke="#8c564b" stroke-width="0.48" stroke-linejoin="miter"/>
<text x="618.80" y="155.65">Europe</text>
<line x1="599.50" y1="163.00" x2="613.50" y2="163.00" stroke="#e377c2" stroke-width="0.84"/>
<path d="M605.26 160.51L606.50 161.76L607.74 160.51L608.99 161.76L607.74 163.00L608.99 164.24L607.74 165.49L606.50 164.24L605.26 165.49L604.01 164.24L605.26 163.00L604.01 161.76Z" fill="#e377c2" stroke="#e377c2" stroke-width="0.48" stroke-linejoin="miter"/>
<text x="618.80" y="165.45">Chain of Thought</text>
<line x1="599.50" y1="173.00" x2="613.50" y2="173.00" stroke="#7f7f7f" stroke-width="0.84"/>
<path d="M606.50 173.00V175.49M606.50 173.00L608.49 171.76M606.50 173.00L604.51 171.76" stroke="#7f7f7f" stroke-width="0.38" fill="none"/>
<text x="618.80" y="175.45">Finance minister</text>
</g>
</g>
<g id="chart2">
<path d="M72.82 254.50V438.40M106.87 254.50V438.40M140.92 254.50V438.40M174.97 254.50V438.40M209.02 254.50V438.40M243.08 254.50V438.40M277.13 254.50V438.40M311.18 254.50V438.40M345.23 254.50V438.40M379.28 254.50V438.40M57.50 430.04H394.60M57.50 396.60H394.60M57.50 363.17H394.60M57.50 329.73H394.60M57.50 296.30H394.60M57.50 262.86H394.60" stroke="#b0b0b0" stroke-width="1.03" opacity="0.42" fill="none"/>
<path d="M72.82 438.40v1.85M106.87 438.40v1.85M140.92 438.40v1.85M174.97 438.40v1.85M209.02 438.40v1.85M243.08 438.40v1.85M277.13 438.40v1.85M311.18 438.40v1.85M345.23 438.40v1.85M379.28 438.40v1.85M57.50 430.04h-1.85M57.50 396.60h-1.85M57.50 363.17h-1.85M57.50 329.73h-1.85M57.50 296.30h-1.85M57.50 262.86h-1.85" stroke="#333" stroke-width="0.51" fill="none"/>
<g font-family="DejaVu Sans, Liberation Sans, sans-serif" font-size="5.04" fill="#333">
<text x="72.82" y="445.83" text-anchor="middle">1</text>
<text x="106.87" y="445.83" text-anchor="middle">2</text>
<text x="140.92" y="445.83" text-anchor="middle">3</text>
<text x="174.97" y="445.83" text-anchor="middle">4</text>
<text x="209.02" y="445.83" text-anchor="middle">5</text>
<text x="243.08" y="445.83" text-anchor="middle">6</text>
<text x="277.13" y="445.83" text-anchor="middle">7</text>
<text x="311.18" y="445.83" text-anchor="middle">8</text>
<text x="345.23" y="445.83" text-anchor="middle">9</text>
<text x="379.28" y="445.83" text-anchor="middle">10</text>
<text x="53.90" y="431.68" text-anchor="end">0.0</text>
<text x="53.90" y="398.24" text-anchor="end">0.2</text>
<text x="53.90" y="364.81" text-anchor="end">0.4</text>
<text x="53.90" y="331.37" text-anchor="end">0.6</text>
<text x="53.90" y="297.94" text-anchor="end">0.8</text>
<text x="53.90" y="264.50" text-anchor="end">1.0</text>
</g>
<polyline points="72.82,262.86 106.87,266.20 140.92,267.87 174.97,287.94 209.02,316.36 243.08,354.81 277.13,399.95 311.18,421.68 345.23,425.03 379.28,430.04" fill="none" stroke="#000000" stroke-width="0.91" stroke-linejoin="round"/>
<circle cx="72.82" cy="262.86" r="2.67" fill="#000000" stroke="#000000" stroke-width="0.51" stroke-linejoin="miter"/>
<circle cx="106.87" cy="266.20" r="2.67" fill="#000000" stroke="#000000" stroke-width="0.51" stroke-linejoin="miter"/>
<circle cx="140.92" cy="267.87" r="2.67" fill="#000000" stroke="#000000" stroke-width="0.51" stroke-linejoin="miter"/>
<circle cx="174.97" cy="287.94" r="2.67" fill="#000000" stroke="#000000" stroke-width="0.51" stroke-linejoin="miter"/>
<circle cx="209.02" cy="316.36" r="2.67" fill="#000000" stroke="#000000" stroke-width="0.51" stroke-linejoin="miter"/>
<circle cx="243.08" cy="354.81" r="2.67" fill="#000000" stroke="#000000" stroke-width="0.51" stroke-linejoin="miter"/>
<circle cx="277.13" cy="399.95" r="2.67" fill="#000000" stroke="#000000" stroke-width="0.51" stroke-linejoin="miter"/>
<circle cx="311.18" cy="421.68" r="2.67" fill="#000000" stroke="#000000" stroke-width="0.51" stroke-linejoin="miter"/>
<circle cx="345.23" cy="425.03" r="2.67" fill="#000000" stroke="#000000" stroke-width="0.51" stroke-linejoin="miter"/>
<circle cx="379.28" cy="430.04" r="2.67" fill="#000000" stroke="#000000" stroke-width="0.51" stroke-linejoin="miter"/>
<polyline points="174.97,262.86 209.02,262.86 243.08,282.08 277.13,305.49 311.18,305.66 345.23,324.72 379.28,430.04" fill="none" stroke="#1f77b4" stroke-width="0.91" stroke-linejoin="round"/>
<circle cx="209.02" cy="262.86" r="2.67" fill="#1f77b4" stroke="#1f77b4" stroke-width="0.51" stroke-linejoin="miter"/>
<circle cx="243.08" cy="282.08" r="2.67" fill="#1f77b4" stroke="#1f77b4" stroke-width="0.51" stroke-linejoin="miter"/>
<circle cx="277.13" cy="305.49" r="2.67" fill="#1f77b4" stroke="#1f77b4" stroke-width="0.51" stroke-linejoin="miter"/>
<circle cx="311.18" cy="305.66" r="2.67" fill="#1f77b4" stroke="#1f77b4" stroke-width="0.51" stroke-linejoin="miter"/>
<circle cx="345.23" cy="324.72" r="2.67" fill="#1f77b4" stroke="#1f77b4" stroke-width="0.51" stroke-linejoin="miter"/>
<circle cx="379.28" cy="430.04" r="2.67" fill="#1f77b4" stroke="#1f77b4" stroke-width="0.51" stroke-linejoin="miter"/>
<polyline points="72.82,338.93 106.87,338.93 140.92,338.93 174.97,348.96 209.02,430.04" fill="none" stroke="#ff7f0e" stroke-width="0.91" stroke-linejoin="round"/>
<rect x="70.15" y="336.25" width="5.35" height="5.35" fill="#ff7f0e" stroke="#ff7f0e" stroke-width="0.51" stroke-linejoin="miter"/>
<rect x="104.20" y="336.25" width="5.35" height="5.35" fill="#ff7f0e" stroke="#ff7f0e" stroke-width="0.51" stroke-linejoin="miter"/>
<rect x="138.25" y="336.25" width="5.35" height="5.35" fill="#ff7f0e" stroke="#ff7f0e" stroke-width="0.51" stroke-linejoin="miter"/>
<rect x="172.30" y="346.28" width="5.35" height="5.35" fill="#ff7f0e" stroke="#ff7f0e" stroke-width="0.51" stroke-linejoin="miter"/>
<path d="M72.82 260.18L70.15 265.53L75.50 265.53Z" fill="#2ca02c" stroke="#2ca02c" stroke-width="0.51" stroke-linejoin="miter"/>
<path d="M106.87 260.18L104.20 265.53L109.55 265.53Z" fill="#2ca02c" stroke="#2ca02c" stroke-width="0.51" stroke-linejoin="miter"/>
<path d="M140.92 260.18L138.25 265.53L143.60 265.53Z" fill="#2ca02c" stroke="#2ca02c" stroke-width="0.51" stroke-linejoin="miter"/>
<path d="M174.97 260.18L172.30 265.53L177.65 265.53Z" fill="#2ca02c" stroke="#2ca02c" stroke-width="0.51" stroke-linejoin="miter"/>
<path d="M209.02 427.37L206.35 432.72L211.70 432.72Z" fill="#2ca02c" stroke="#2ca02c" stroke-width="0.51" stroke-linejoin="miter"/>
<path d="M243.08 427.37L240.40 432.72L245.75 432.72Z" fill="#2ca02c" stroke="#2ca02c" stroke-width="0.51" stroke-linejoin="miter"/>
<path d="M277.13 427.37L274.45 432.72L279.80 432.72Z" fill="#2ca02c" stroke="#2ca02c" stroke-width="0.51" stroke-linejoin="miter"/>
<path d="M311.18 427.37L308.50 432.72L313.85 432.72Z" fill="#2ca02c" stroke="#2ca02c" stroke-width="0.51" stroke-linejoin="miter"/>
<path d="M345.23 427.37L342.55 432.72L347.90 432.72Z" fill="#2ca02c" stroke="#2ca02c" stroke-width="0.51" stroke-linejoin="miter"/>
<path d="M379.28 427.37L376.60 432.72L381.95 432.72Z" fill="#2ca02c" stroke="#2ca02c" stroke-width="0.51" stroke-linejoin="miter"/>
<path d="M72.82 259.08L76.60 262.86L72.82 266.64L69.04 262.86Z" fill="#d62728" stroke="#d62728" stroke-width="0.51" stroke-linejoin="miter"/>
<path d="M106.87 259.08L110.65 262.86L106.87 266.64L103.09 262.86Z" fill="#d62728" stroke="#d62728" stroke-width="0.51" stroke-linejoin="miter"/>
<path d="M140.92 259.08L144.71 262.86L140.92 266.64L137.14 262.86Z" fill="#d62728" stroke="#d62728" stroke-width="0.51" stroke-linejoin="miter"/>
<path d="M174.97 259.08L178.76 262.86L174.97 266.64L171.19 262.86Z" fill="#d62728" stroke="#d62728" stroke-width="0.51" stroke-linejoin="miter"/>
<path d="M209.02 426.26L212.81 430.04L209.02 433.82L205.24 430.04Z" fill="#d62728" stroke="#d62728" stroke-width="0.51" stroke-linejoin="miter"/>
<path d="M243.08 426.26L246.86 430.04L243.08 433.82L239.29 430.04Z" fill="#d62728" stroke="#d62728" stroke-width="0.51" stroke-linejoin="miter"/>
<path d="M277.13 426.26L280.91 430.04L277.13 433.82L273.34 430.04Z" fill="#d62728" stroke="#d62728" stroke-width="0.51" stroke-linejoin="miter"/>
<path d="M311.18 426.26L314.96 430.04L311.18 433.82L307.39 430.04Z" fill="#d62728" stroke="#d62728" stroke-width="0.51" stroke-linejoin="miter"/>
<path d="M345.23 426.26L349.01 430.04L345.23 433.82L341.45 430.04Z" fill="#d62728" stroke="#d62728" stroke-width="0.51" stroke-linejoin="miter"/>
<path d="M379.28 426.26L383.06 430.04L379.28 433.82L375.50 430.04Z" fill="#d62728" stroke="#d62728" stroke-width="0.51" stroke-linejoin="miter"/>
<path d="M71.93 260.18h1.78v1.78h1.78v1.78h-1.78v1.78h-1.78v-1.78h-1.78v-1.78h1.78Z" fill="#9467bd" stroke="#9467bd" stroke-width="0.51" stroke-linejoin="miter"/>
<path d="M105.98 260.18h1.78v1.78h1.78v1.78h-1.78v1.78h-1.78v-1.78h-1.78v-1.78h1.78Z" fill="#9467bd" stroke="#9467bd" stroke-width="0.51" stroke-linejoin="miter"/>
<path d="M140.03 260.18h1.78v1.78h1.78v1.78h-1.78v1.78h-1.78v-1.78h-1.78v-1.78h1.78Z" fill="#9467bd" stroke="#9467bd" stroke-width="0.51" stroke-linejoin="miter"/>
<path d="M174.08 260.18h1.78v1.78h1.78v1.78h-1.78v1.78h-1.78v-1.78h-1.78v-1.78h1.78Z" fill="#9467bd" stroke="#9467bd" stroke-width="0.51" stroke-linejoin="miter"/>
<path d="M208.13 427.37h1.78v1.78h1.78v1.78h-1.78v1.78h-1.78v-1.78h-1.78v-1.78h1.78Z" fill="#9467bd" stroke="#9467bd" stroke-width="0.51" stroke-linejoin="miter"/>
<path d="M242.18 427.37h1.78v1.78h1.78v1.78h-1.78v1.78h-1.78v-1.78h-1.78v-1.78h1.78Z" fill="#9467bd" stroke="#9467bd" stroke-width="0.51" stroke-linejoin="miter"/>
<path d="M276.23 427.37h1.78v1.78h1.78v1.78h-1.78v1.78h-1.78v-1.78h-1.78v-1.78h1.78Z" fill="#9467bd" stroke="#9467bd" stroke-width="0.51" stroke-linejoin="miter"/>
<path d="M310.28 427.37h1.78v1.78h1.78v1.78h-1.78v1.78h-1.78v-1.78h-1.78v-1.78h1.78Z" fill="#9467bd" stroke="#9467bd" stroke-width="0.51" stroke-linejoin="miter"/>
<path d="M344.34 427.37h1.78v1.78h1.78v1.78h-1.78v1.78h-1.78v-1.78h-1.78v-1.78h1.78Z" fill="#9467bd" stroke="#9467bd" stroke-width="0.51" stroke-linejoin="miter"/>
<path d="M378.39 427.37h1.78v1.78h1.78v1.78h-1.78v1.78h-1.78v-1.78h-1.78v-1.78h1.78Z" fill="#9467bd" stroke="#9467bd" stroke-width="0.51" stroke-linejoin="miter"/>
<polyline points="72.82,262.86 106.87,262.86 140.92,262.86 174.97,262.86 209.02,430.04 243.08,430.04 277.13,430.04 311.18,430.04 345.23,430.04 379.28,430.04" fill="none" stroke="#8c564b" stroke-width="1.09" stroke-linejoin="round"/>
<circle cx="72.82" cy="262.86" r="2.67" fill="#8c564b" stroke="#8c564b" stroke-width="0.51" stroke-linejoin="miter"/>
<circle cx="106.87" cy="262.86" r="2.67" fill="#8c564b" stroke="#8c564b" stroke-width="0.51" stroke-linejoin="miter"/>
<circle cx="140.92" cy="262.86" r="2.67" fill="#8c564b" stroke="#8c564b" stroke-width="0.51" stroke-linejoin="miter"/>
<circle cx="174.97" cy="262.86" r="2.67" fill="#8c564b" stroke="#8c564b" stroke-width="0.51" stroke-linejoin="miter"/>
<circle cx="209.02" cy="430.04" r="2.67" fill="#8c564b" stroke="#8c564b" stroke-width="0.51" stroke-linejoin="miter"/>
<circle cx="243.08" cy="430.04" r="2.67" fill="#8c564b" stroke="#8c564b" stroke-width="0.51" stroke-linejoin="miter"/>
<circle cx="277.13" cy="430.04" r="2.67" fill="#8c564b" stroke="#8c564b" stroke-width="0.51" stroke-linejoin="miter"/>
<circle cx="311.18" cy="430.04" r="2.67" fill="#8c564b" stroke="#8c564b" stroke-width="0.51" stroke-linejoin="miter"/>
<circle cx="345.23" cy="430.04" r="2.67" fill="#8c564b" stroke="#8c564b" stroke-width="0.51" stroke-linejoin="miter"/>
<circle cx="379.28" cy="430.04" r="2.67" fill="#8c564b" stroke="#8c564b" stroke-width="0.51" stroke-linejoin="miter"/>
<rect x="57.50" y="254.50" width="337.10" height="183.90" fill="none" stroke="#000" stroke-width="0.70" opacity="0.75"/>
<g font-family="DejaVu Sans, Liberation Sans, sans-serif" font-weight="bold" font-size="7.20" fill="#000">
<text x="226.05" y="251.41" text-anchor="middle">Model: gpt-5-mini</text>
<text x="226.05" y="454.45" text-anchor="middle">Decision</text>
<text transform="translate(42.17 346.45) rotate(-90)" text-anchor="middle">Probability of A</text>
</g>
<rect x="255.70" y="258.85" width="135.80" height="86.75" rx="1.44" fill="#fff" fill-opacity="0.84" stroke="#ccc" stroke-opacity="0.8" stroke-width="0.62"/>
<g font-family="DejaVu Sans, Liberation Sans, sans-serif" font-weight="bold" font-size="7.20" fill="#000">
<line x1="257.60" y1="263.80" x2="272.20" y2="263.80" stroke="#000000" stroke-width="0.91"/>
<circle cx="264.90" cy="263.80" r="2.67" fill="#000000" stroke="#000000" stroke-width="0.51" stroke-linejoin="miter"/>
<text x="277.20" y="266.43">Holt &amp; Laury mean</text>
<line x1="257.60" y1="274.50" x2="272.20" y2="274.50" stroke="#7f7f7f" stroke-width="0.91" stroke-dasharray="2.78 1.23" opacity="0.9"/>
<text x="277.20" y="277.13">Risk-Neutral Prediction</text>
<line x1="257.60" y1="285.10" x2="272.20" y2="285.10" stroke="#1f77b4" stroke-width="0.91"/>
<circle cx="264.90" cy="285.10" r="2.67" fill="#1f77b4" stroke="#1f77b4" stroke-width="0.51" stroke-linejoin="miter"/>
<text x="277.20" y="287.73">Risk Avoiding manipulation</text>
<line x1="257.60" y1="295.60" x2="272.20" y2="295.60" stroke="#ff7f0e" stroke-width="0.91"/>
<rect x="262.23" y="292.93" width="5.35" height="5.35" fill="#ff7f0e" stroke="#ff7f0e" stroke-width="0.51" stroke-linejoin="miter"/>
<text x="277.20" y="298.23">Risk Loving manipulation</text>
<line x1="257.60" y1="306.30" x2="272.20" y2="306.30" stroke="#2ca02c" stroke-width="0.91"/>
<path d="M264.90 303.63L262.23 308.97L267.57 308.97Z" fill="#2ca02c" stroke="#2ca02c" stroke-width="0.51" stroke-linejoin="miter"/>
<text x="277.20" y="308.93">No Context</text>
<line x1="257.60" y1="316.80" x2="272.20" y2="316.80" stroke="#d62728" stroke-width="0.91"/>
<path d="M264.90 313.02L268.68 316.80L264.90 320.58L261.12 316.80Z" fill="#d62728" stroke="#d62728" stroke-width="0.51" stroke-linejoin="miter"/>
<text x="277.20" y="319.43">forget AI-u r human</text>
<line x1="257.60" y1="327.30" x2="272.20" y2="327.30" stroke="#9467bd" stroke-width="0.91"/>
<path d="M264.01 324.63h1.78v1.78h1.78v1.78h-1.78v1.78h-1.78v-1.78h-1.78v-1.78h1.78Z" fill="#9467bd" stroke="#9467bd" stroke-width="0.51" stroke-linejoin="miter"/>
<text x="277.20" y="329.93">Male</text>
<line x1="257.60" y1="338.10" x2="272.20" y2="338.10" stroke="#8c564b" stroke-width="0.91"/>
<circle cx="264.90" cy="338.10" r="2.67" fill="#8c564b" stroke="#8c564b" stroke-width="0.51" stroke-linejoin="miter"/>
<text x="277.20" y="340.73">Female</text>
</g>
</g>
<g id="chart3">
<path d="M434.83 253.45V429.30M467.35 253.45V429.30M499.86 253.45V429.30M532.38 253.45V429.30M564.89 253.45V429.30M597.41 253.45V429.30M629.92 253.45V429.30M662.44 253.45V429.30M694.95 253.45V429.30M727.47 253.45V429.30M420.20 421.31H742.10M420.20 389.33H742.10M420.20 357.36H742.10M420.20 325.39H742.10M420.20 293.42H742.10M420.20 261.44H742.10" stroke="#b0b0b0" stroke-width="0.98" opacity="0.42" fill="none"/>
<path d="M434.83 429.30v1.77M467.35 429.30v1.77M499.86 429.30v1.77M532.38 429.30v1.77M564.89 429.30v1.77M597.41 429.30v1.77M629.92 429.30v1.77M662.44 429.30v1.77M694.95 429.30v1.77M727.47 429.30v1.77M420.20 421.31h-1.77M420.20 389.33h-1.77M420.20 357.36h-1.77M420.20 325.39h-1.77M420.20 293.42h-1.77M420.20 261.44h-1.77" stroke="#333" stroke-width="0.49" fill="none"/>
<g font-family="DejaVu Sans, Liberation Sans, sans-serif" font-size="4.81" fill="#333">
<text x="434.83" y="436.39" text-anchor="middle">1</text>
<text x="467.35" y="436.39" text-anchor="middle">2</text>
<text x="499.86" y="436.39" text-anchor="middle">3</text>
<text x="532.38" y="436.39" text-anchor="middle">4</text>
<text x="564.89" y="436.39" text-anchor="middle">5</text>
<text x="597.41" y="436.39" text-anchor="middle">6</text>
<text x="629.92" y="436.39" text-anchor="middle">7</text>
<text x="662.44" y="436.39" text-anchor="middle">8</text>
<text x="694.95" y="436.39" text-anchor="middle">9</text>
<text x="727.47" y="436.39" text-anchor="middle">10</text>
<text x="416.76" y="422.86" text-anchor="end">0.0</text>
<text x="416.76" y="390.89" text-anchor="end">0.2</text>
<text x="416.76" y="358.92" text-anchor="end">0.4</text>
<text x="416.76" y="326.94" text-anchor="end">0.6</text>
<text x="416.76" y="294.97" text-anchor="end">0.8</text>
<text x="416.76" y="263.00" text-anchor="end">1.0</text>
</g>
<polyline points="434.83,261.44 467.35,264.64 499.86,266.24 532.38,285.42 564.89,312.60 597.41,349.37 629.92,392.53 662.44,413.31 694.95,416.51 727.47,421.31" fill="none" stroke="#000000" stroke-width="0.86" stroke-linejoin="round"/>
<circle cx="434.83" cy="261.44" r="2.55" fill="#000000" stroke="#000000" stroke-width="0.49" stroke-linejoin="miter"/>
<circle cx="467.35" cy="264.64" r="2.55" fill="#000000" stroke="#000000" stroke-width="0.49" stroke-linejoin="miter"/>
<circle cx="499.86" cy="266.24" r="2.55" fill="#000000" stroke="#000000" stroke-width="0.49" stroke-linejoin="miter"/>
<circle cx="532.38" cy="285.42" r="2.55" fill="#000000" stroke="#000000" stroke-width="0.49" stroke-linejoin="miter"/>
<circle cx="564.89" cy="312.60" r="2.55" fill="#000000" stroke="#000000" stroke-width="0.49" stroke-linejoin="miter"/>
<circle cx="597.41" cy="349.37" r="2.55" fill="#000000" stroke="#000000" stroke-width="0.49" stroke-linejoin="miter"/>
<circle cx="629.92" cy="392.53" r="2.55" fill="#000000" stroke="#000000" stroke-width="0.49" stroke-linejoin="miter"/>
<circle cx="662.44" cy="413.31" r="2.55" fill="#000000" stroke="#000000" stroke-width="0.49" stroke-linejoin="miter"/>
<circle cx="694.95" cy="416.51" r="2.55" fill="#000000" stroke="#000000" stroke-width="0.49" stroke-linejoin="miter"/>
<circle cx="727.47" cy="421.31" r="2.55" fill="#000000" stroke="#000000" stroke-width="0.49" stroke-linejoin="miter"/>
<polyline points="532.38,261.44 564.89,261.44 597.41,279.83 629.92,302.21 662.44,302.37 694.95,320.59 727.47,421.31" fill="none" stroke="#1f77b4" stroke-width="0.86" stroke-linejoin="round"/>
<circle cx="564.89" cy="261.44" r="2.55" fill="#1f77b4" stroke="#1f77b4" stroke-width="0.49" stroke-linejoin="miter"/>
<circle cx="597.41" cy="279.83" r="2.55" fill="#1f77b4" stroke="#1f77b4" stroke-width="0.49" stroke-linejoin="miter"/>
<circle cx="629.92" cy="302.21" r="2.55" fill="#1f77b4" stroke="#1f77b4" stroke-width="0.49" stroke-linejoin="miter"/>
<circle cx="662.44" cy="302.37" r="2.55" fill="#1f77b4" stroke="#1f77b4" stroke-width="0.49" stroke-linejoin="miter"/>
<circle cx="694.95" cy="320.59" r="2.55" fill="#1f77b4" stroke="#1f77b4" stroke-width="0.49" stroke-linejoin="miter"/>
<circle cx="727.47" cy="421.31" r="2.55" fill="#1f77b4" stroke="#1f77b4" stroke-width="0.49" stroke-linejoin="miter"/>
<polyline points="434.83,334.18 467.35,334.18 499.86,334.18 532.38,343.77 564.89,421.31" fill="none" stroke="#ff7f0e" stroke-width="0.86" stroke-linejoin="round"/>
<rect x="432.28" y="331.63" width="5.10" height="5.10" fill="#ff7f0e" stroke="#ff7f0e" stroke-width="0.49" stroke-linejoin="miter"/>
<rect x="464.80" y="331.63" width="5.10" height="5.10" fill="#ff7f0e" stroke="#ff7f0e" stroke-width="0.49" stroke-linejoin="miter"/>
<rect x="497.31" y="331.63" width="5.10" height="5.10" fill="#ff7f0e" stroke="#ff7f0e" stroke-width="0.49" stroke-linejoin="miter"/>
<rect x="529.83" y="341.22" width="5.10" height="5.10" fill="#ff7f0e" stroke="#ff7f0e" stroke-width="0.49" stroke-linejoin="miter"/>
<path d="M434.83 258.89L432.28 263.99L437.38 263.99Z" fill="#2ca02c" stroke="#2ca02c" stroke-width="0.49" stroke-linejoin="miter"/>
<path d="M467.35 258.89L464.80 263.99L469.90 263.99Z" fill="#2ca02c" stroke="#2ca02c" stroke-width="0.49" stroke-linejoin="miter"/>
<path d="M499.86 258.89L497.31 263.99L502.41 263.99Z" fill="#2ca02c" stroke="#2ca02c" stroke-width="0.49" stroke-linejoin="miter"/>
<path d="M532.38 258.89L529.83 263.99L534.93 263.99Z" fill="#2ca02c" stroke="#2ca02c" stroke-width="0.49" stroke-linejoin="miter"/>
<path d="M564.89 418.76L562.34 423.86L567.44 423.86Z" fill="#2ca02c" stroke="#2ca02c" stroke-width="0.49" stroke-linejoin="miter"/>
<path d="M597.41 418.76L594.86 423.86L599.96 423.86Z" fill="#2ca02c" stroke="#2ca02c" stroke-width="0.49" stroke-linejoin="miter"/>
<path d="M629.92 418.76L627.37 423.86L632.47 423.86Z" fill="#2ca02c" stroke="#2ca02c" stroke-width="0.49" stroke-linejoin="miter"/>
<path d="M662.44 418.76L659.89 423.86L664.99 423.86Z" fill="#2ca02c" stroke="#2ca02c" stroke-width="0.49" stroke-linejoin="miter"/>
<path d="M694.95 418.76L692.40 423.86L697.50 423.86Z" fill="#2ca02c" stroke="#2ca02c" stroke-width="0.49" stroke-linejoin="miter"/>
<path d="M727.47 418.76L724.92 423.86L730.02 423.86Z" fill="#2ca02c" stroke="#2ca02c" stroke-width="0.49" stroke-linejoin="miter"/>
<path d="M434.83 257.84L438.44 261.44L434.83 265.05L431.22 261.44Z" fill="#d62728" stroke="#d62728" stroke-width="0.49" stroke-linejoin="miter"/>
<path d="M467.35 257.84L470.96 261.44L467.35 265.05L463.74 261.44Z" fill="#d62728" stroke="#d62728" stroke-width="0.49" stroke-linejoin="miter"/>
<path d="M499.86 257.84L503.47 261.44L499.86 265.05L496.25 261.44Z" fill="#d62728" stroke="#d62728" stroke-width="0.49" stroke-linejoin="miter"/>
<path d="M532.38 257.84L535.99 261.44L532.38 265.05L528.77 261.44Z" fill="#d62728" stroke="#d62728" stroke-width="0.49" stroke-linejoin="miter"/>
<path d="M564.89 417.70L568.50 421.31L564.89 424.91L561.28 421.31Z" fill="#d62728" stroke="#d62728" stroke-width="0.49" stroke-linejoin="miter"/>
<path d="M597.41 417.70L601.02 421.31L597.41 424.91L593.80 421.31Z" fill="#d62728" stroke="#d62728" stroke-width="0.49" stroke-linejoin="miter"/>
<path d="M629.92 417.70L633.53 421.31L629.92 424.91L626.31 421.31Z" fill="#d62728" stroke="#d62728" stroke-width="0.49" stroke-linejoin="miter"/>
<path d="M662.44 417.70L666.05 421.31L662.44 424.91L658.83 421.31Z" fill="#d62728" stroke="#d62728" stroke-width="0.49" stroke-linejoin="miter"/>
<path d="M694.95 417.70L698.56 421.31L694.95 424.91L691.34 421.31Z" fill="#d62728" stroke="#d62728" stroke-width="0.49" stroke-linejoin="miter"/>
<path d="M727.47 417.70L731.08 421.31L727.47 424.91L723.86 421.31Z" fill="#d62728" stroke="#d62728" stroke-width="0.49" stroke-linejoin="miter"/>
<path d="M433.98 258.89h1.70v1.70h1.70v1.70h-1.70v1.70h-1.70v-1.70h-1.70v-1.70h1.70Z" fill="#9467bd" stroke="#9467bd" stroke-width="0.49" stroke-linejoin="miter"/>
<path d="M466.50 258.89h1.70v1.70h1.70v1.70h-1.70v1.70h-1.70v-1.70h-1.70v-1.70h1.70Z" fill="#9467bd" stroke="#9467bd" stroke-width="0.49" stroke-linejoin="miter"/>
<path d="M499.01 258.89h1.70v1.70h1.70v1.70h-1.70v1.70h-1.70v-1.70h-1.70v-1.70h1.70Z" fill="#9467bd" stroke="#9467bd" stroke-width="0.49" stroke-linejoin="miter"/>
<path d="M531.53 258.89h1.70v1.70h1.70v1.70h-1.70v1.70h-1.70v-1.70h-1.70v-1.70h1.70Z" fill="#9467bd" stroke="#9467bd" stroke-width="0.49" stroke-linejoin="miter"/>
<path d="M564.04 418.76h1.70v1.70h1.70v1.70h-1.70v1.70h-1.70v-1.70h-1.70v-1.70h1.70Z" fill="#9467bd" stroke="#9467bd" stroke-width="0.49" stroke-linejoin="miter"/>
<path d="M596.56 418.76h1.70v1.70h1.70v1.70h-1.70v1.70h-1.70v-1.70h-1.70v-1.70h1.70Z" fill="#9467bd" stroke="#9467bd" stroke-width="0.49" stroke-linejoin="miter"/>
<path d="M629.07 418.76h1.70v1.70h1.70v1.70h-1.70v1.70h-1.70v-1.70h-1.70v-1.70h1.70Z" fill="#9467bd" stroke="#9467bd" stroke-width="0.49" stroke-linejoin="miter"/>
<path d="M661.59 418.76h1.70v1.70h1.70v1.70h-1.70v1.70h-1.70v-1.70h-1.70v-1.70h1.70Z" fill="#9467bd" stroke="#9467bd" stroke-width="0.49" stroke-linejoin="miter"/>
<path d="M694.10 418.76h1.70v1.70h1.70v1.70h-1.70v1.70h-1.70v-1.70h-1.70v-1.70h1.70Z" fill="#9467bd" stroke="#9467bd" stroke-width="0.49" stroke-linejoin="miter"/>
<path d="M726.62 418.76h1.70v1.70h1.70v1.70h-1.70v1.70h-1.70v-1.70h-1.70v-1.70h1.70Z" fill="#9467bd" stroke="#9467bd" stroke-width="0.49" stroke-linejoin="miter"/>
<circle cx="434.83" cy="261.44" r="2.55" fill="#8c564b" stroke="#8c564b" stroke-width="0.49" stroke-linejoin="miter"/>
<circle cx="467.35" cy="261.44" r="2.55" fill="#8c564b" stroke="#8c564b" stroke-width="0.49" stroke-linejoin="miter"/>
<circle cx="499.86" cy="261.44" r="2.55" fill="#8c564b" stroke="#8c564b" stroke-width="0.49" stroke-linejoin="miter"/>
<circle cx="532.38" cy="261.44" r="2.55" fill="#8c564b" stroke="#8c564b" stroke-width="0.49" stroke-linejoin="miter"/>
<circle cx="564.89" cy="421.31" r="2.55" fill="#8c564b" stroke="#8c564b" stroke-width="0.49" stroke-linejoin="miter"/>
<circle cx="597.41" cy="421.31" r="2.55" fill="#8c564b" stroke="#8c564b" stroke-width="0.49" stroke-linejoin="miter"/>
<circle cx="629.92" cy="421.31" r="2.55" fill="#8c564b" stroke="#8c564b" stroke-width="0.49" stroke-linejoin="miter"/>
<circle cx="662.44" cy="421.31" r="2.55" fill="#8c564b" stroke="#8c564b" stroke-width="0.49" stroke-linejoin="miter"/>
<circle cx="694.95" cy="421.31" r="2.55" fill="#8c564b" stroke="#8c564b" stroke-width="0.49" stroke-linejoin="miter"/>
<circle cx="727.47" cy="421.31" r="2.55" fill="#8c564b" stroke="#8c564b" stroke-width="0.49" stroke-linejoin="miter"/>
<path d="M433.56 258.89L434.83 260.17L436.11 258.89L437.38 260.17L436.11 261.44L437.38 262.72L436.11 263.99L434.83 262.72L433.56 263.99L432.28 262.72L433.56 261.44L432.28 260.17Z" fill="#e377c2" stroke="#e377c2" stroke-width="0.49" stroke-linejoin="miter"/>
<path d="M466.07 258.89L467.35 260.17L468.62 258.89L469.90 260.17L468.62 261.44L469.90 262.72L468.62 263.99L467.35 262.72L466.07 263.99L464.80 262.72L466.07 261.44L464.80 260.17Z" fill="#e377c2" stroke="#e377c2" stroke-width="0.49" stroke-linejoin="miter"/>
<path d="M498.59 258.89L499.86 260.17L501.14 258.89L502.41 260.17L501.14 261.44L502.41 262.72L501.14 263.99L499.86 262.72L498.59 263.99L497.31 262.72L498.59 261.44L497.31 260.17Z" fill="#e377c2" stroke="#e377c2" stroke-width="0.49" stroke-linejoin="miter"/>
<path d="M531.10 258.89L532.38 260.17L533.65 258.89L534.93 260.17L533.65 261.44L534.93 262.72L533.65 263.99L532.38 262.72L531.10 263.99L529.83 262.72L531.10 261.44L529.83 260.17Z" fill="#e377c2" stroke="#e377c2" stroke-width="0.49" stroke-linejoin="miter"/>
<path d="M563.62 418.76L564.89 420.03L566.17 418.76L567.44 420.03L566.17 421.31L567.44 422.58L566.17 423.86L564.89 422.58L563.62 423.86L562.34 422.58L563.62 421.31L562.34 420.03Z" fill="#e377c2" stroke="#e377c2" stroke-width="0.49" stroke-linejoin="miter"/>
<path d="M596.13 418.76L597.41 420.03L598.68 418.76L599.96 420.03L598.68 421.31L599.96 422.58L598.68 423.86L597.41 422.58L596.13 423.86L594.86 422.58L596.13 421.31L594.86 420.03Z" fill="#e377c2" stroke="#e377c2" stroke-width="0.49" stroke-linejoin="miter"/>
<path d="M628.65 418.76L629.92 420.03L631.20 418.76L632.47 420.03L631.20 421.31L632.47 422.58L631.20 423.86L629.92 422.58L628.65 423.86L627.37 422.58L628.65 421.31L627.37 420.03Z" fill="#e377c2" stroke="#e377c2" stroke-width="0.49" stroke-linejoin="miter"/>
<path d="M661.16 418.76L662.44 420.03L663.71 418.76L664.99 420.03L663.71 421.31L664.99 422.58L663.71 423.86L662.44 422.58L661.16 423.86L659.89 422.58L661.16 421.31L659.89 420.03Z" fill="#e377c2" stroke="#e377c2" stroke-width="0.49" stroke-linejoin="miter"/>
<path d="M693.68 418.76L694.95 420.03L696.23 418.76L697.50 420.03L696.23 421.31L697.50 422.58L696.23 423.86L694.95 422.58L693.68 423.86L692.40 422.58L693.68 421.31L692.40 420.03Z" fill="#e377c2" stroke="#e377c2" stroke-width="0.49" stroke-linejoin="miter"/>
<path d="M726.19 418.76L727.47 420.03L728.74 418.76L730.02 420.03L728.74 421.31L730.02 422.58L728.74 423.86L727.47 422.58L726.19 423.86L724.92 422.58L726.19 421.31L724.92 420.03Z" fill="#e377c2" stroke="#e377c2" stroke-width="0.49" stroke-linejoin="miter"/>
<polyline points="434.83,261.44 467.35,261.44 499.86,261.44 532.38,261.44 564.89,421.31 597.41,421.31 629.92,421.31 662.44,421.31 694.95,421.31 727.47,421.31" fill="none" stroke="#7f7f7f" stroke-width="1.04" stroke-linejoin="round"/>
<path d="M434.83 261.44V263.99M434.83 261.44L436.87 260.17M434.83 261.44L432.79 260.17" stroke="#7f7f7f" stroke-width="0.38" fill="none"/>
<path d="M467.35 261.44V263.99M467.35 261.44L469.39 260.17M467.35 261.44L465.31 260.17" stroke="#7f7f7f" stroke-width="0.38" fill="none"/>
<path d="M499.86 261.44V263.99M499.86 261.44L501.90 260.17M499.86 261.44L497.82 260.17" stroke="#7f7f7f" stroke-width="0.38" fill="none"/>
<path d="M532.38 261.44V263.99M532.38 261.44L534.42 260.17M532.38 261.44L530.34 260.17" stroke="#7f7f7f" stroke-width="0.38" fill="none"/>
<path d="M564.89 421.31V423.86M564.89 421.31L566.93 420.03M564.89 421.31L562.85 420.03" stroke="#7f7f7f" stroke-width="0.38" fill="none"/>
<path d="M597.41 421.31V423.86M597.41 421.31L599.45 420.03M597.41 421.31L595.37 420.03" stroke="#7f7f7f" stroke-width="0.38" fill="none"/>
<path d="M629.92 421.31V423.86M629.92 421.31L631.96 420.03M629.92 421.31L627.88 420.03" stroke="#7f7f7f" stroke-width="0.38" fill="none"/>
<path d="M662.44 421.31V423.86M662.44 421.31L664.48 420.03M662.44 421.31L660.40 420.03" stroke="#7f7f7f" stroke-width="0.38" fill="none"/>
<path d="M694.95 421.31V423.86M694.95 421.31L696.99 420.03M694.95 421.31L692.91 420.03" stroke="#7f7f7f" stroke-width="0.38" fill="none"/>
<path d="M727.47 421.31V423.86M727.47 421.31L729.51 420.03M727.47 421.31L725.43 420.03" stroke="#7f7f7f" stroke-width="0.38" fill="none"/>
<rect x="420.20" y="253.45" width="321.90" height="175.85" fill="none" stroke="#000" stroke-width="0.67" opacity="0.75"/>
<g font-family="DejaVu Sans, Liberation Sans, sans-serif" font-weight="bold" font-size="6.87" fill="#000">
<text x="581.15" y="250.51" text-anchor="middle">Model: gpt-5-mini</text>
<text x="581.15" y="444.61" text-anchor="middle">Decision</text>
</g>
<rect x="602.50" y="258.00" width="136.00" height="103.00" rx="1.37" fill="#fff" fill-opacity="0.84" stroke="#ccc" stroke-opacity="0.8" stroke-width="0.59"/>
<g font-family="DejaVu Sans, Liberation Sans, sans-serif" font-weight="bold" font-size="6.87" fill="#000">
<line x1="605.30" y1="262.50" x2="619.10" y2="262.50" stroke="#000000" stroke-width="0.86"/>
<circle cx="612.20" cy="262.50" r="2.55" fill="#000000" stroke="#000000" stroke-width="0.49" stroke-linejoin="miter"/>
<text x="624.50" y="265.01">Holt &amp; Laury mean</text>
<line x1="605.30" y1="272.80" x2="619.10" y2="272.80" stroke="#7f7f7f" stroke-width="0.86" stroke-dasharray="2.65 1.18" opacity="0.9"/>
<text x="624.50" y="275.31">Risk-Neutral Prediction</text>
<line x1="605.30" y1="282.80" x2="619.10" y2="282.80" stroke="#1f77b4" stroke-width="0.86"/>
<circle cx="612.20" cy="282.80" r="2.55" fill="#1f77b4" stroke="#1f77b4" stroke-width="0.49" stroke-linejoin="miter"/>
<text x="624.50" y="285.31">Risk Avoiding manipulation</text>
<line x1="605.30" y1="293.00" x2="619.10" y2="293.00" stroke="#ff7f0e" stroke-width="0.86"/>
<rect x="609.65" y="290.45" width="5.10" height="5.10" fill="#ff7f0e" stroke="#ff7f0e" stroke-width="0.49" stroke-linejoin="miter"/>
<text x="624.50" y="295.51">Risk Loving manipulation</text>
<line x1="605.30" y1="303.00" x2="619.10" y2="303.00" stroke="#2ca02c" stroke-width="0.86"/>
<path d="M612.20 300.45L609.65 305.55L614.75 305.55Z" fill="#2ca02c" stroke="#2ca02c" stroke-width="0.49" stroke-linejoin="miter"/>
<text x="624.50" y="305.51">AI</text>
<line x1="605.30" y1="313.20" x2="619.10" y2="313.20" stroke="#d62728" stroke-width="0.86"/>
<path d="M612.20 309.59L615.81 313.20L612.20 316.81L608.59 313.20Z" fill="#d62728" stroke="#d62728" stroke-width="0.49" stroke-linejoin="miter"/>
<text x="624.50" y="315.71">Disaster-forget AI-u r human</text>
<line x1="605.30" y1="323.30" x2="619.10" y2="323.30" stroke="#9467bd" stroke-width="0.86"/>
<path d="M611.35 320.75h1.70v1.70h1.70v1.70h-1.70v1.70h-1.70v-1.70h-1.70v-1.70h1.70Z" fill="#9467bd" stroke="#9467bd" stroke-width="0.49" stroke-linejoin="miter"/>
<text x="624.50" y="325.81">USA</text>
<line x1="605.30" y1="333.50" x2="619.10" y2="333.50" stroke="#8c564b" stroke-width="0.86"/>
<circle cx="612.20" cy="333.50" r="2.55" fill="#8c564b" stroke="#8c564b" stroke-width="0.49" stroke-linejoin="miter"/>
<text x="624.50" y="336.01">Europe</text>
<line x1="605.30" y1="343.60" x2="619.10" y2="343.60" stroke="#e377c2" stroke-width="0.86"/>
<path d="M610.92 341.05L612.20 342.32L613.48 341.05L614.75 342.32L613.48 343.60L614.75 344.88L613.48 346.15L612.20 344.88L610.92 346.15L609.65 344.88L610.92 343.60L609.65 342.32Z" fill="#e377c2" stroke="#e377c2" stroke-width="0.49" stroke-linejoin="miter"/>
<text x="624.50" y="346.11">Chain of Thought</text>
<line x1="605.30" y1="353.60" x2="619.10" y2="353.60" stroke="#7f7f7f" stroke-width="0.86"/>
<path d="M612.20 353.60V356.15M612.20 353.60L614.24 352.32M612.20 353.60L610.16 352.32" stroke="#7f7f7f" stroke-width="0.38" fill="none"/>
<text x="624.50" y="356.11">Finance minister</text>
</g>
</g>
<g font-family="Liberation Serif, DejaVu Serif, serif" font-size="20.5" fill="#111" stroke="#111" stroke-width="0.45">
<text x="77.70" y="478.8" textLength="54.20" lengthAdjust="spacingAndGlyphs">Figure</text>
<text x="136.90" y="478.8" textLength="17.10" lengthAdjust="spacingAndGlyphs">6:</text>
<text x="157.70" y="478.8" textLength="71.00" lengthAdjust="spacingAndGlyphs">Imputed</text>
<text x="235.30" y="478.8" textLength="62.70" lengthAdjust="spacingAndGlyphs">choices</text>
<text x="303.00" y="478.8" textLength="15.40" lengthAdjust="spacingAndGlyphs">of</text>
<text x="324.80" y="478.8" textLength="36.30" lengthAdjust="spacingAndGlyphs">Holt</text>
<text x="364.40" y="478.8" textLength="31.20" lengthAdjust="spacingAndGlyphs">and</text>
<text x="402.30" y="478.8" textLength="46.50" lengthAdjust="spacingAndGlyphs">Laury</text>
<text x="454.50" y="478.8" textLength="43.70" lengthAdjust="spacingAndGlyphs">tasks</text>
<text x="505.00" y="478.8" textLength="19.50" lengthAdjust="spacingAndGlyphs">by</text>
<text x="530.20" y="478.8" textLength="31.30" lengthAdjust="spacingAndGlyphs">two</text>
<text x="568.20" y="478.8" textLength="34.20" lengthAdjust="spacingAndGlyphs">LMs</text>
<text x="607.00" y="478.8" textLength="16.10" lengthAdjust="spacingAndGlyphs">of</text>
<text x="628.10" y="478.8" textLength="63.30" lengthAdjust="spacingAndGlyphs">OpenAI</text>
</g>
</svg>
</body></html>
